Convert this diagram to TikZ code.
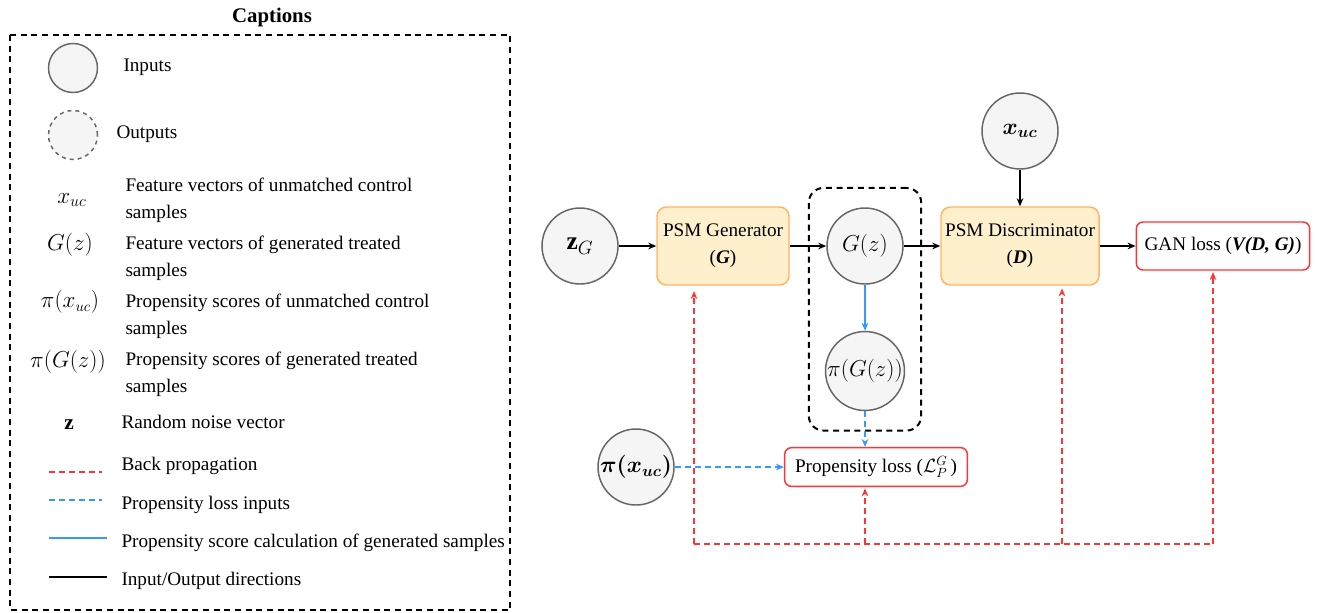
\documentclass[tikz,border=0pt]{standalone}
\usepackage{fontspec}
\setmainfont{LiberationSerif}[Extension=.ttf,UprightFont=*-Regular,BoldFont=*-Bold,ItalicFont=*-Italic,BoldItalicFont=*-BoldItalic]
\usepackage{amsmath}
\usetikzlibrary{arrows.meta,fit}
\tikzset{every picture/.style={line width=0.75pt}}
\definecolor{circfill}{RGB}{245,245,245}
\definecolor{circdraw}{RGB}{102,102,102}
\definecolor{psmfill}{RGB}{255,240,205}
\definecolor{psmdraw}{RGB}{255,179,102}
\definecolor{bpred}{RGB}{255,51,51}
\definecolor{plblue}{RGB}{51,153,255}

\begin{document}
\begin{tikzpicture}[x=0.75pt,y=0.75pt,yscale=-1,xscale=1,
	font=\fontsize{14.4}{20}\selectfont,
	inp/.style={circle,draw=circdraw,fill=circfill,line width=1.1pt,minimum size=57pt,inner sep=0pt,font=\fontsize{19}{21}\selectfont},
	outp/.style={inp,dashed},
	psm/.style={rounded corners=7pt,draw=psmdraw,fill=psmfill,line width=1.1pt,align=center,minimum height=58.5pt,inner sep=0pt},
	loss/.style={rounded corners=5pt,draw=bpred,fill=white,line width=1.1pt,inner sep=0pt},
	lbl/.style={anchor=west,inner sep=0pt,align=left},
	sym/.style={inner sep=0pt,font=\fontsize{16}{19}\selectfont},
	io/.style={-{Stealth[length=6pt,width=5pt]},line width=1.1pt},
	calc/.style={io,plblue},
	plin/.style={io,plblue,dash pattern=on 4.5pt off 3pt},
	back/.style={-{Stealth[length=6pt,width=5pt]},bpred,line width=1.1pt,dash pattern=on 4.5pt off 3pt},
	backline/.style={bpred,line width=1.1pt,dash pattern=on 4.5pt off 3pt}]
	\useasboundingbox (0,0) rectangle (1319,612);
	
	% Captions
	\node[font=\fontsize{15.6}{18}\selectfont\bfseries] (capt) at (272,17) {Captions};
	\draw[line width=1.5pt,dash pattern=on 4.5pt off 3.5pt] (10,35) rectangle (510,610);
	
	\node[inp,minimum size=36.75pt] (lin) at (73,68) {};
	\node[lbl] (tin) at (123,67) {Inputs};
	\node[outp,minimum size=36.75pt] (lout) at (73,135) {};
	\node[lbl] (tout) at (116,134) {Outputs};
	
	\node[sym,font=\fontsize{18}{19}\selectfont] (sxuc) at (72,200) {$x_{uc}$};
	\node[lbl] (txuc) at (125,200) {Feature vectors of unmatched control\\samples};
	\node[sym] (sgz) at (70,245) {$G(z)$};
	\node[lbl] (tgz) at (125,258) {Feature vectors of generated treated\\samples};
	\node[sym] (spxuc) at (70,302) {$\pi(x_{uc})$};
	\node[lbl] (tpxuc) at (125,316) {Propensity scores of unmatched control\\samples};
	\node[sym] (spgz) at (68,362) {$\pi(G(z))$};
	\node[lbl] (tpgz) at (125,374) {Propensity scores of generated treated\\samples};
	\node[sym] (sz) at (69,425) {$\mathbf{z}$};
	\node[lbl] (tz) at (121,422) {Random noise vector};
	
	\draw[backline] (49,472) -- (102,472);
	\node[lbl] (tbp) at (121,466) {Back propagation};
	\draw[plblue,line width=1.1pt,dash pattern=on 4.5pt off 3pt] (49,500) -- (102,500);
	\node[lbl] (tpl) at (121,505) {Propensity loss inputs};
	\draw[plblue,line width=1.1pt] (49,538) -- (107,538);
	\node[lbl] (tcalc) at (121,543) {Propensity score calculation of generated samples};
	\draw[line width=1.1pt] (49,577) -- (107,577);
	\node[lbl] (tio) at (121,581) {Input/Output directions};
	
	% Model
	\node[inp] (zg) at (580,246) {$\mathbf{z}_G$};
	\node[psm,minimum width=99pt] (gen) at (723,246) {PSM Generator\\(\textbf{\textit{G}})};
	\node[inp] (gz) at (865,246) {$G(z)$};
	\node[inp,font=\fontsize{16}{19}\selectfont] (pgz) at (865,371) {$\pi(G(z))$};
	\node[psm,minimum width=118.5pt] (disc) at (1020,246) {PSM Discriminator\\(\textbf{\textit{D}})};
	\node[inp,font=\fontsize{17}{19}\selectfont] (xuc) at (1020,131) {$\boldsymbol{x_{uc}}$};
	\node[loss,minimum width=130pt,minimum height=36pt] (gan) at (1223,246) {GAN loss (\textbf{\textit{V(D, G)}})};
	\node[inp,font=\fontsize{18}{20}\selectfont] (pxuc) at (636,467) {$\boldsymbol{\pi(x_{uc})}$};
	\node[loss,minimum width=137pt,minimum height=29pt] (ploss) at (876,467) {Propensity loss ($\mathcal{L}_P^G$\,)};
	
	%Group box
	\node[fit=(gz)(pgz),draw,rounded corners=11pt,line width=1.5pt,dash pattern=on 4.5pt off 3.5pt,inner xsep=12pt,inner ysep=14.5pt] (grp) {};
	
	% Input/Output directions
	\draw[io] (zg) -- (gen);
	\draw[io] (gen) -- (gz);
	\draw[io] (gz) -- (disc);
	\draw[io] (xuc) -- (disc);
	\draw[io] (disc) -- (gan);
	\draw[calc] (gz) -- (pgz);
	\draw[plin] (pgz) -- (pgz.south |- ploss.north);
	\draw[plin] (pxuc) -- (ploss);
	
	% Back propagation
	\coordinate (b1) at (694,544);
	\coordinate (b2) at (865,544);
	\coordinate (b3) at (1062,544);
	\coordinate (b4) at (1213,544);
	\draw[backline] (b1) -- (b4);
	\draw[back,shorten >=4pt] (b1) -- (b1 |- gen.south);
	\draw[back,shorten >=1pt] (b2) -- (b2 |- ploss.south);
	\draw[back,shorten >=2pt] (b3) -- (b3 |- disc.south);
	\draw[back,shorten >=1pt] (b4) -- (b4 |- gan.south);
	
\end{tikzpicture}
\end{document}
